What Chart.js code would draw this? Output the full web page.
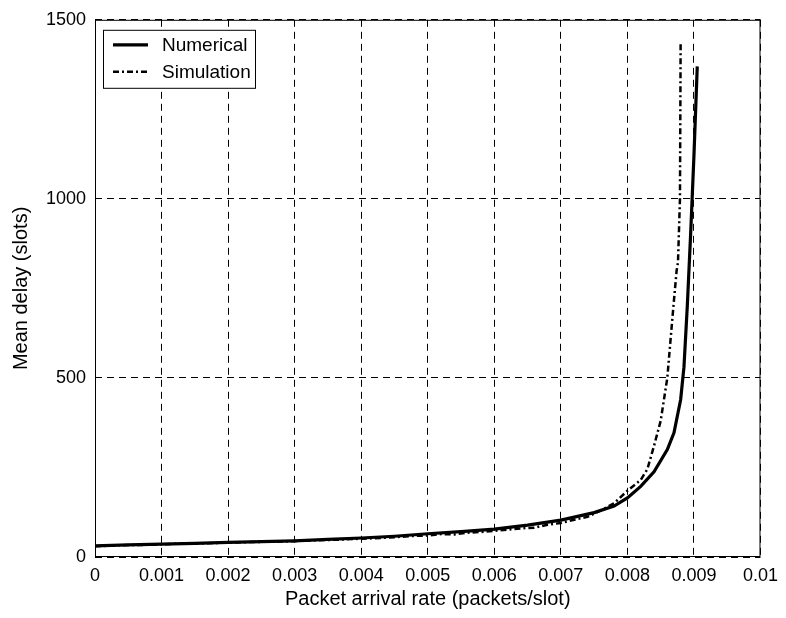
<!DOCTYPE html>
<html>
<head>
<meta charset="utf-8">
<script src="https://cdn.jsdelivr.net/npm/chart.js@4/dist/chart.umd.min.js"></script>
<style>
  html, body { margin: 0; padding: 0; background: #fff; }
  #wrap { width: 786px; height: 618px; }
</style>
</head>
<body>
<div id="wrap"><canvas id="delayChart"></canvas></div>
<script>
// numerical model: arrival rate (packets/slot) vs mean delay (slots)
var numRate = [0, 0.0005, 0.001, 0.0015, 0.002, 0.0025, 0.003, 0.0035, 0.004, 0.0045,
               0.005, 0.0055, 0.006, 0.0065, 0.007, 0.0075, 0.0078, 0.008, 0.0082, 0.0084,
               0.0086, 0.0087, 0.0088, 0.00885, 0.0089, 0.00895, 0.009, 0.00905];
var numDelay = [31, 34, 36, 38, 41, 43, 45, 49, 53, 58,
                65, 71, 78, 89, 103, 124, 142, 165, 197, 238,
                300, 347, 439, 530, 700, 900, 1120, 1370];

// simulation results
var simRate = [0, 0.0004, 0.0008, 0.0012, 0.0016, 0.002, 0.0024, 0.0028, 0.0032, 0.0036,
               0.004, 0.0044, 0.0048, 0.005, 0.0052, 0.0054, 0.0056, 0.0058, 0.006, 0.0062,
               0.0064, 0.0066, 0.0068, 0.007, 0.0072, 0.0074, 0.0076, 0.0078, 0.008, 0.0082,
               0.0083, 0.0084, 0.0085, 0.0086, 0.00865, 0.0087, 0.00874, 0.00876, 0.00879, 0.0088];
var simDelay = [30, 33, 34, 37, 38, 40, 42, 43, 46, 48,
                51, 54, 59, 60, 64, 63, 68, 70, 73, 76,
                80, 82, 90, 95, 104, 112, 130, 150, 185, 215,
                245, 310, 380, 500, 610, 717, 800, 822, 1000, 1433];

var xTicks = { min: 0, max: 0.01, step: 0.001 };
var yTicks = { min: 0, max: 1500, step: 500 };

var fontFamily = '"Liberation Sans", Arial, sans-serif';

function toPoints(xs, ys) {
    return xs.map(function (x, i) { return { x: x, y: ys[i] }; });
}

// frame around the plot plus a boxed legend in the upper left corner
var frameAndLegend = {
    id: 'frameAndLegend',
    afterDraw: function (chart) {
        var ctx = chart.ctx;
        var a = chart.chartArea;
        ctx.save();
        ctx.strokeStyle = '#000';
        ctx.lineWidth = 1;
        ctx.setLineDash([]);
        ctx.strokeRect(a.left + 0.5, a.top + 0.5, a.right - a.left - 1, a.bottom - a.top - 1);

        var bx = a.left + 8, by = a.top + 10, bw = 152, bh = 58;
        ctx.fillStyle = '#fff';
        ctx.fillRect(bx, by, bw, bh);
        ctx.strokeRect(bx + 0.5, by + 0.5, bw, bh);

        ctx.font = '19px ' + fontFamily;
        ctx.textBaseline = 'middle';
        chart.data.datasets.forEach(function (ds, i) {
            var ly = by + 15 + i * 27;
            ctx.beginPath();
            ctx.lineWidth = ds.borderWidth;
            ctx.strokeStyle = ds.borderColor;
            ctx.setLineDash(ds.borderDash || []);
            ctx.moveTo(bx + 10, ly);
            ctx.lineTo(bx + 45, ly);
            ctx.stroke();
            ctx.setLineDash([]);
            ctx.fillStyle = '#000';
            ctx.fillText(ds.label, bx + 59, ly + 1);
        });
        ctx.restore();
    }
};

var ctx = document.getElementById('delayChart').getContext('2d');
var delayChart = new Chart(ctx, {
    type: 'line',
    data: {
        datasets: [{
            label: 'Numerical',
            data: toPoints(numRate, numDelay),
            borderColor: '#000',
            borderWidth: 3.2,
            pointRadius: 0,
            fill: false
        }, {
            label: 'Simulation',
            data: toPoints(simRate, simDelay),
            borderColor: '#000',
            borderWidth: 2.5,
            borderDash: [6, 3, 2, 3],
            pointRadius: 0,
            fill: false
        }]
    },
    options: {
        responsive: true,
        maintainAspectRatio: false,
        animation: false,
        layout: { padding: { left: 0, right: 24, top: 19, bottom: 0 } },
        plugins: {
            legend: { display: false },
            tooltip: { enabled: false }
        },
        scales: {
            x: {
                type: 'linear',
                min: xTicks.min,
                max: xTicks.max,
                afterFit: function (scale) { scale.height = 61; },
                grid: { color: '#000', lineWidth: 1, drawTicks: false },
                border: { display: false, dash: [7, 5] },
                ticks: {
                    stepSize: xTicks.step,
                    autoSkip: false,
                    maxRotation: 0,
                    padding: 8,
                    color: '#000',
                    font: { family: fontFamily, size: 18 },
                    callback: function (v) { return String(+v.toFixed(4)); }
                },
                title: {
                    display: true,
                    text: 'Packet arrival rate (packets/slot)',
                    color: '#000',
                    padding: { top: 0, bottom: 7 },
                    font: { family: fontFamily, size: 20 }
                }
            },
            y: {
                min: yTicks.min,
                max: yTicks.max,
                afterFit: function (scale) { scale.width = 95; },
                grid: { color: '#000', lineWidth: 1, drawTicks: false },
                border: { display: false, dash: [7, 5] },
                ticks: {
                    stepSize: yTicks.step,
                    padding: 9,
                    color: '#000',
                    font: { family: fontFamily, size: 18 },
                    callback: function (v) { return String(v); }
                },
                title: {
                    display: true,
                    text: 'Mean delay (slots)',
                    color: '#000',
                    padding: { top: 9, bottom: 0 },
                    font: { family: fontFamily, size: 20 }
                }
            }
        }
    },
    plugins: [frameAndLegend]
});
</script>
</body>
</html>
